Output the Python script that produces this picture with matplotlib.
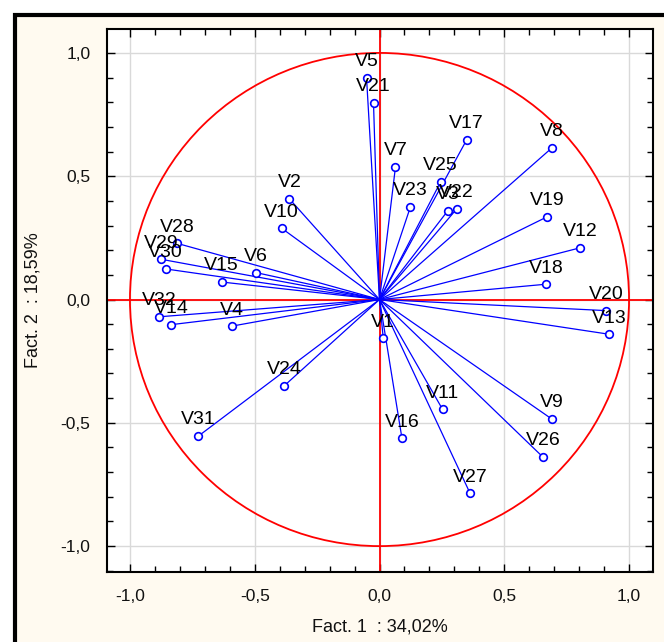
import numpy as np
import matplotlib
matplotlib.use("Agg")
import matplotlib.pyplot as plt
from matplotlib.patches import Rectangle, Circle
from matplotlib.ticker import MultipleLocator, FuncFormatter

plt.rcParams['font.family'] = ['Liberation Sans', 'DejaVu Sans']

# cargas das variaveis nos fatores 1 e 2
nomes = ["V1", "V2", "V3", "V4", "V5", "V6", "V7", "V8", "V9", "V10",
         "V11", "V12", "V13", "V14", "V15", "V16", "V17", "V18", "V19", "V20",
         "V21", "V22", "V23", "V24", "V25", "V26", "V27", "V28", "V29", "V30",
         "V31", "V32"]
fator1 = [0.015, -0.361, 0.273, -0.592, -0.052, -0.494, 0.064, 0.691, 0.691, -0.392,
          0.253, 0.805, 0.921, -0.835, -0.633, 0.090, 0.349, 0.667, 0.673, 0.908,
          -0.024, 0.309, 0.124, -0.383, 0.245, 0.655, 0.363, -0.812, -0.874, -0.857,
          -0.726, -0.882]
fator2 = [-0.157, 0.408, 0.359, -0.108, 0.899, 0.109, 0.538, 0.615, -0.485, 0.289,
          -0.446, 0.210, -0.141, -0.102, 0.071, -0.563, 0.647, 0.062, 0.336, -0.045,
          0.797, 0.367, 0.376, -0.351, 0.477, -0.639, -0.786, 0.228, 0.163, 0.124,
          -0.554, -0.070]

azul = "#0000ff"
vermelho = "#ff0000"

fig = plt.figure(figsize=(6.64, 6.42), dpi=100)
fig.patch.set_facecolor("white")

# moldura creme com borda preta (so topo e esquerda aparecem)
moldura = Rectangle((15 / 664, -0.5), 1.5, 1.5 - 15 / 642, transform=fig.transFigure,
                    facecolor="#fffaf0", edgecolor="black", linewidth=3, zorder=-10)
fig.patches.append(moldura)

ax = fig.add_axes([107 / 664, 1 - 572 / 642, (653 - 107) / 664, (572 - 29) / 642])
ax.set_facecolor("white")
ax.set_xlim(-1.092, 1.096)
ax.set_ylim(-1.105, 1.097)

ax.xaxis.set_major_locator(MultipleLocator(0.5))
ax.yaxis.set_major_locator(MultipleLocator(0.5))
ax.xaxis.set_minor_locator(MultipleLocator(0.1))
ax.yaxis.set_minor_locator(MultipleLocator(0.1))
virgula = FuncFormatter(lambda v, p: ("%.1f" % v).replace(".", ",").replace("-0,0", "0,0"))
ax.xaxis.set_major_formatter(virgula)
ax.yaxis.set_major_formatter(virgula)
ax.tick_params(which="both", direction="in", top=True, right=True, colors="black")
ax.tick_params(which="major", length=6, width=1, labelsize=12.5, pad=12, labelcolor="#111111")
ax.tick_params(which="minor", length=4, width=1)
ax.grid(True, which="major", color="#d9d9d9", linewidth=1, zorder=0)
for lado in ax.spines.values():
    lado.set_linewidth(1.5)

# circulo de correlacao e eixos
ax.add_patch(Circle((0, 0), 1.0, fill=False, edgecolor=vermelho, linewidth=1.3, zorder=2))
ax.axhline(0, color=vermelho, linewidth=1.3, zorder=2)
ax.axvline(0, color=vermelho, linewidth=1.3, zorder=2)

for nome, x, y in zip(nomes, fator1, fator2):
    ax.plot([0, x], [0, y], color=azul, linewidth=0.9, zorder=3)
    ax.plot(x, y, marker="o", markersize=5.5, markerfacecolor="white",
            markeredgecolor=azul, markeredgewidth=1.2, zorder=4)
    ax.annotate(nome, (x, y), xytext=(0, 5.5), textcoords="offset points",
                ha="center", va="bottom", fontsize=14, color="#000000", zorder=5)

ax.set_xlabel("Fact. 1  : 34,02%", fontsize=13, labelpad=11, color="#111111")
ax.set_ylabel("Fact. 2  : 18,59%", fontsize=13, labelpad=14, color="#111111")

fig.savefig("out.png", dpi=100, facecolor=fig.get_facecolor())
